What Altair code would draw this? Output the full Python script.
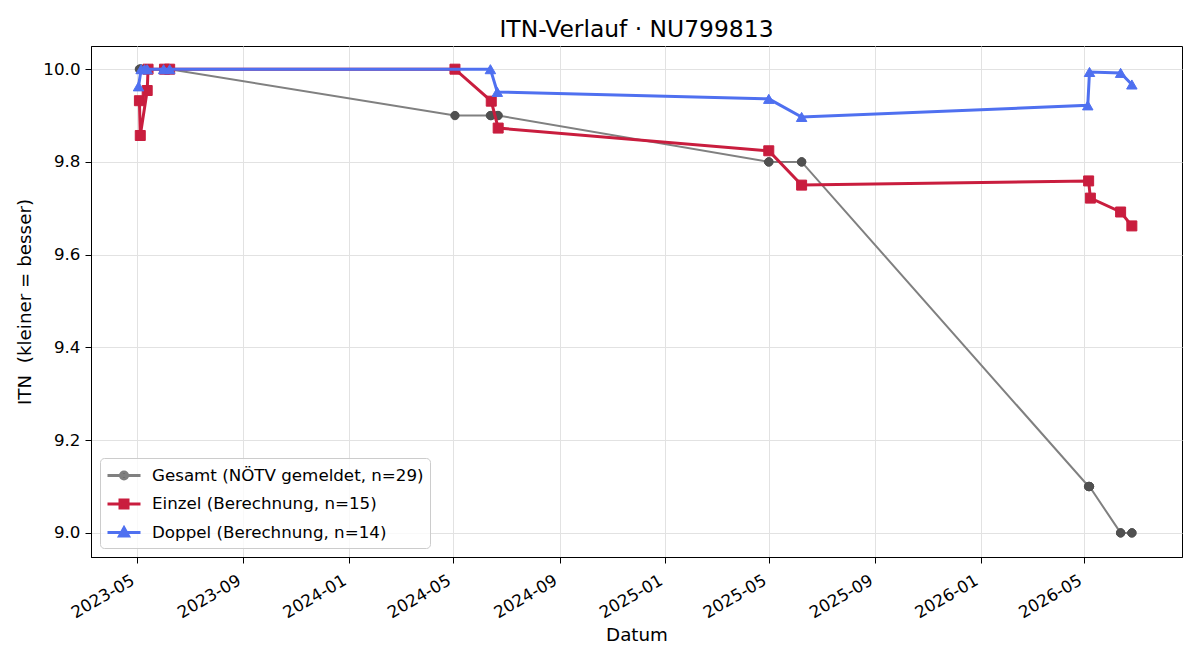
import altair as alt
import pandas as pd

# --- data -------------------------------------------------------------------
gesamt_dates = [
    "2023-05-04", "2023-05-05", "2023-05-05", "2023-05-06", "2023-05-10",
    "2023-05-13", "2023-05-13", "2023-05-14", "2023-06-01", "2023-06-02",
    "2023-06-08", "2023-06-08",
    "2024-05-03", "2024-06-13", "2024-06-14", "2024-06-21", "2024-06-22",
    "2025-05-01", "2025-05-01", "2025-06-08", "2025-06-08",
    "2026-05-06", "2026-05-06", "2026-05-07", "2026-05-07",
    "2026-06-12", "2026-06-12", "2026-06-25", "2026-06-25",
]
gesamt_itn = [
    10.0, 10.0, 10.0, 10.0, 10.0, 10.0, 10.0, 10.0, 10.0, 10.0, 10.0, 10.0,
    9.9, 9.9, 9.9, 9.9, 9.9,
    9.8, 9.8, 9.8, 9.8,
    9.1, 9.1, 9.1, 9.1,
    9.0, 9.0, 9.0, 9.0,
]

einzel_dates = [
    "2023-05-04", "2023-05-05", "2023-05-13", "2023-05-14", "2023-06-02",
    "2023-06-08", "2024-05-03", "2024-06-14", "2024-06-22", "2025-05-01",
    "2025-06-08", "2026-05-06", "2026-05-08", "2026-06-12", "2026-06-25",
]
einzel_itn = [
    9.932, 9.857, 9.954, 10.0, 10.0,
    10.0, 10.0, 9.931, 9.873, 9.824,
    9.750, 9.759, 9.722, 9.692, 9.662,
]

doppel_dates = [
    "2023-05-03", "2023-05-06", "2023-05-10", "2023-05-13", "2023-06-01",
    "2023-06-08", "2024-06-13", "2024-06-21", "2025-05-01", "2025-06-08",
    "2026-05-05", "2026-05-07", "2026-06-12", "2026-06-25",
]
doppel_itn = [
    9.963, 10.0, 10.0, 10.0, 10.0,
    10.0, 10.0, 9.951, 9.936, 9.897,
    9.922, 9.994, 9.992, 9.967,
]

series_names = [
    "Gesamt (NÖTV gemeldet, n=29)",
    "Einzel (Berechnung, n=15)",
    "Doppel (Berechnung, n=14)",
]
line_colors = ["#808080", "#c91d3e", "#4f70f0"]
marker_colors = ["#505050", "#c91d3e", "#4f70f0"]
marker_shapes = ["circle", "square", "triangle-up"]
marker_sizes = [70, 100, 110]
line_widths = [2, 3, 3]

# legend glyphs: a short line with the series marker sitting on it
legend_glyphs = [
    "M-1,0H2.3M0.3,0A0.35,0.35 0 1 0 1,0A0.35,0.35 0 1 0 0.3,0Z",
    "M-1,0H2.3M0.25,-0.4H1.05V0.4H0.25Z",
    "M-1,0H2.3M0.65,-0.47L1.1,0.35H0.2Z",
]

x_ticks = [
    "2023-05-01", "2023-09-01", "2024-01-01", "2024-05-01", "2024-09-01",
    "2025-01-01", "2025-05-01", "2025-09-01", "2026-01-01", "2026-05-01",
]
x_range = ["2023-03-09", "2026-08-22"]
y_ticks = [9.0, 9.2, 9.4, 9.6, 9.8, 10.0]
y_range = [8.948, 10.05]


def ms(day):
    return int(pd.Timestamp(day).value // 10**6)


frames = []
for name, dates, vals in zip(series_names,
                             [gesamt_dates, einzel_dates, doppel_dates],
                             [gesamt_itn, einzel_itn, doppel_itn]):
    frames.append(pd.DataFrame({"Datum": dates, "ITN": vals, "Serie": name}))
df = pd.concat(frames, ignore_index=True)

FONT = "DejaVu Sans"

x_enc = alt.X(
    "Datum:T",
    title="Datum",
    scale=alt.Scale(type="utc", domain=[ms(d) for d in x_range], nice=False),
    axis=alt.Axis(
        values=[ms(d) for d in x_ticks],
        labelExpr="utcFormat(datum.value, '%Y-%m')",
        labelAngle=-30,
        labelAlign="right",
        labelBaseline="top",
        labelPadding=9,
        labelOffset=-8,
        titlePadding=5,
    ),
)
y_enc = alt.Y(
    "ITN:Q",
    title="ITN \u00a0(kleiner = besser)",
    scale=alt.Scale(domain=y_range, nice=False, zero=False),
    axis=alt.Axis(values=y_ticks, format=".1f", labelPadding=5, titlePadding=8),
)

base = alt.Chart(df).encode(x=x_enc, y=y_enc)

# one line layer and one marker layer per series, drawn in series order
layers = []
for i, name in enumerate(series_names):
    sub = base.transform_filter(alt.datum.Serie == name)
    layers.append(
        sub.mark_line(color=line_colors[i], strokeWidth=line_widths[i])
    )
    layers.append(
        sub.mark_point(
            filled=True,
            opacity=1,
            shape=marker_shapes[i],
            size=marker_sizes[i],
            fill=marker_colors[i],
            stroke=marker_colors[i],
            strokeWidth=1,
        )
    )

legend_props = dict(
    title=None,
    orient="bottom-left",
    offset=9,
    padding=6,
    rowPadding=6.5,
    symbolSize=400,
    symbolStrokeWidth=3,
    labelOffset=23,
    labelFontSize=16.7,
    labelFont=FONT,
    labelColor="#000000",
    labelLimit=400,
    strokeColor="#cccccc",
    fillColor="rgba(255,255,255,0.8)",
    cornerRadius=4,
)

# legend-only layer: carries the series scales, draws no marks itself
legend_layer = (
    base.transform_filter("false")
    .mark_point(filled=True, opacity=1)
    .encode(
        color=alt.Color(
            "Serie:N",
            scale=alt.Scale(domain=series_names, range=marker_colors),
            legend=alt.Legend(**legend_props),
        ),
        stroke=alt.Stroke(
            "Serie:N",
            scale=alt.Scale(domain=series_names, range=line_colors),
            legend=alt.Legend(**legend_props),
        ),
        shape=alt.Shape(
            "Serie:N",
            scale=alt.Scale(domain=series_names, range=legend_glyphs),
            legend=alt.Legend(**legend_props),
        ),
    )
)
layers.append(legend_layer)

chart = (
    alt.layer(*layers)
    .properties(
        width=1091,
        height=511,
        autosize="none",
        padding={"left": 91, "top": 46, "right": 18, "bottom": 103},
        title=alt.Title(
            "ITN-Verlauf · NU799813",
            fontSize=23.4,
            font=FONT,
            fontWeight="normal",
            color="#000000",
            offset=4,
        ),
    )
    .configure_view(stroke="#000000", strokeWidth=1)
    .configure_axis(
        labelFont=FONT,
        titleFont=FONT,
        labelFontSize=16.7,
        titleFontSize=18.3,
        titleFontWeight="normal",
        labelColor="#000000",
        titleColor="#000000",
        domainColor="#000000",
        tickColor="#000000",
        tickSize=6,
        tickWidth=1,
        gridColor="#e2e2e2",
        gridWidth=1,
    )
)

chart.save("out.html", embed_options={"renderer": "svg", "actions": False})
